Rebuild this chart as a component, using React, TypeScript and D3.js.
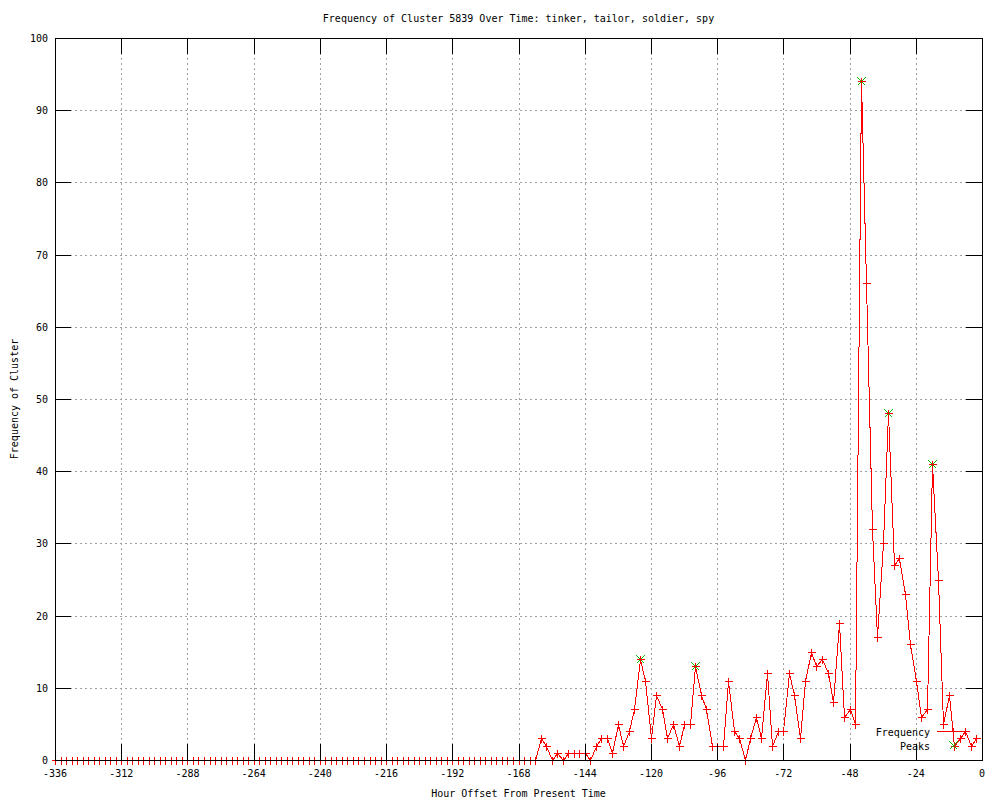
import React, { useEffect, useRef } from "react";
import * as d3 from "d3";

// hours run from -336 in steps of 2
const startHour = -336;
const stepHours = 2;

const frequency = [
  // -336 .. -162
  0, 0, 0, 0, 0, 0, 0, 0, 0, 0, 0, 0, 0, 0, 0, 0, 0, 0, 0, 0, 0, 0,
  0, 0, 0, 0, 0, 0, 0, 0, 0, 0, 0, 0, 0, 0, 0, 0, 0, 0, 0, 0, 0, 0,
  0, 0, 0, 0, 0, 0, 0, 0, 0, 0, 0, 0, 0, 0, 0, 0, 0, 0, 0, 0, 0, 0,
  0, 0, 0, 0, 0, 0, 0, 0, 0, 0, 0, 0, 0, 0, 0, 0, 0, 0, 0, 0, 0, 0,
  // -160 .. -122
  3, 2, 0, 1, 0, 1, 1, 1, 1, 0, 2, 3, 3, 1, 5, 2, 4, 7, 14, 11,
  // -120 .. -82
  3, 9, 7, 3, 5, 2, 5, 5, 13, 9, 7, 2, 2, 2, 11, 4, 3, 0, 3, 6,
  // -80 .. -42
  3, 12, 2, 4, 4, 12, 9, 3, 11, 15, 13, 14, 12, 8, 19, 6, 7, 5, 94, 66,
  // -40 .. -2
  32, 17, 30, 48, 27, 28, 23, 16, 11, 6, 7, 41, 25, 5, 9, 2, 3, 4, 2, 3,
];

const peakHours = [-124, -104, -44, -34, -18];
const peakValues = [14, 13, 94, 48, 41];

const xTicks = [-336, -312, -288, -264, -240, -216, -192, -168, -144, -120, -96, -72, -48, -24, 0];
const yTicks = [0, 10, 20, 30, 40, 50, 60, 70, 80, 90, 100];

const title = "Frequency of Cluster 5839 Over Time: tinker, tailor, soldier, spy";
const xTitle = "Hour Offset From Present Time";
const yTitle = "Frequency of Cluster";

const App = () => {
  const ref = useRef<SVGSVGElement>(null);

  useEffect(() => {
    const width = 1000;
    const height = 800;
    const left = 55, right = 982, top = 38, bottom = 760;
    const ticLen = 16;
    const font = "'DejaVu Sans Mono', 'Liberation Mono', monospace";

    const svg = d3.select(ref.current);
    svg.selectAll("*").remove();
    svg.attr("width", width).attr("height", height)
      .style("font-family", font)
      .style("font-size", "10px");

    svg.append("rect").attr("width", width).attr("height", height).attr("fill", "#fff");

    const x = d3.scaleLinear().domain([-336, 0]).range([left, right]);
    const y = d3.scaleLinear().domain([0, 100]).range([bottom, top]);

    const points = frequency.map((v, i) => ({ h: startHour + i * stepHours, v }));
    const peaks = peakHours.map((h, i) => ({ h, v: peakValues[i] }));

    const px = (h: number) => Math.round(x(h)) + 0.5;
    const py = (v: number) => Math.round(y(v)) + 0.5;

    // grid
    const grid = svg.append("g")
      .attr("stroke", "#a0a0a0")
      .attr("stroke-dasharray", "2,3")
      .attr("shape-rendering", "crispEdges");
    xTicks.forEach(t => {
      grid.append("line").attr("x1", px(t)).attr("x2", px(t)).attr("y1", top).attr("y2", bottom);
    });
    yTicks.forEach(t => {
      grid.append("line").attr("x1", left).attr("x2", right).attr("y1", py(t)).attr("y2", py(t));
    });

    // peaks (green x), drawn under the data
    const cross = (cx: number, cy: number, r: number) =>
      `M${cx - r},${cy - r}L${cx + r},${cy + r}M${cx - r},${cy + r}L${cx + r},${cy - r}`;
    const plus = (cx: number, cy: number, r: number) =>
      `M${cx - r},${cy}H${cx + r}M${cx},${cy - r}V${cy + r}`;

    svg.append("path")
      .attr("d", peaks.map(d => cross(px(d.h), py(d.v), 4)).join(""))
      .attr("stroke", "#00c000")
      .attr("fill", "none")
      .attr("shape-rendering", "crispEdges");

    // data line
    const line = d3.line<{ h: number; v: number }>().x(d => px(d.h)).y(d => py(d.v));
    svg.append("path")
      .attr("d", line(points))
      .attr("stroke", "#ff0000")
      .attr("fill", "none")
      .attr("shape-rendering", "crispEdges");

    svg.append("path")
      .attr("d", points.map(d => plus(px(d.h), py(d.v), 4)).join(""))
      .attr("stroke", "#ff0000")
      .attr("fill", "none")
      .attr("shape-rendering", "crispEdges");

    // border and ticks
    const axes = svg.append("g").attr("stroke", "#000").attr("shape-rendering", "crispEdges");
    axes.append("rect")
      .attr("x", left + 0.5).attr("y", top + 0.5)
      .attr("width", right - left).attr("height", bottom - top)
      .attr("fill", "none");
    xTicks.forEach(t => {
      axes.append("line").attr("x1", px(t)).attr("x2", px(t)).attr("y1", bottom).attr("y2", bottom - ticLen);
      axes.append("line").attr("x1", px(t)).attr("x2", px(t)).attr("y1", top).attr("y2", top + ticLen);
    });
    yTicks.forEach(t => {
      axes.append("line").attr("x1", left).attr("x2", left + ticLen).attr("y1", py(t)).attr("y2", py(t));
      axes.append("line").attr("x1", right).attr("x2", right - ticLen).attr("y1", py(t)).attr("y2", py(t));
    });

    // tick labels
    svg.append("g").selectAll("text").data(xTicks).enter().append("text")
      .attr("x", d => x(d)).attr("y", 777)
      .attr("text-anchor", "middle")
      .text(d => String(d));
    svg.append("g").selectAll("text").data(yTicks).enter().append("text")
      .attr("x", 48).attr("y", d => y(d) + 4)
      .attr("text-anchor", "end")
      .text(d => String(d));

    // titles
    svg.append("text")
      .attr("x", (left + right) / 2).attr("y", 22)
      .attr("text-anchor", "middle").text(title);
    svg.append("text")
      .attr("x", (left + right) / 2).attr("y", 797)
      .attr("text-anchor", "middle").text(xTitle);
    svg.append("text")
      .attr("transform", `translate(18,${(top + bottom) / 2}) rotate(-90)`)
      .attr("text-anchor", "middle").text(yTitle);

    // key
    const key = svg.append("g");
    key.append("text").attr("x", 930).attr("y", 736).attr("text-anchor", "end").text("Frequency");
    key.append("path")
      .attr("d", `M937,731.5H970` + plus(953.5, 731.5, 4))
      .attr("stroke", "#ff0000").attr("fill", "none").attr("shape-rendering", "crispEdges");
    key.append("text").attr("x", 930).attr("y", 750).attr("text-anchor", "end").text("Peaks");
    key.append("path")
      .attr("d", cross(953.5, 745.5, 4))
      .attr("stroke", "#00c000").attr("fill", "none").attr("shape-rendering", "crispEdges");
  }, []);

  return <svg ref={ref} style={{ position: "absolute", left: 0, top: 0, display: "block" }}></svg>;
};

export default App;
